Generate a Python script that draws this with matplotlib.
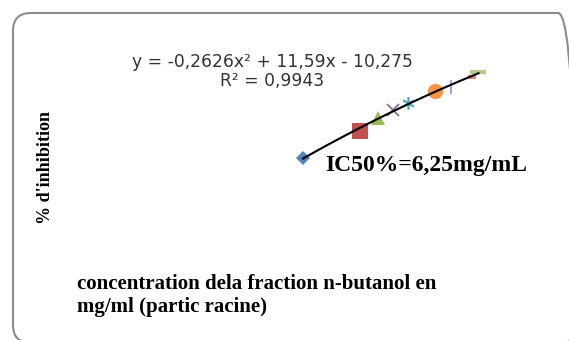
import numpy as np
import matplotlib
matplotlib.use("Agg")
import matplotlib.pyplot as plt
from matplotlib.patches import FancyBboxPatch
from matplotlib.transforms import IdentityTransform

# concentration (mg/ml) and % inhibition, one point per series
conc = [1.0, 2.9, 3.5, 4.0, 4.5, 5.4, 5.93, 6.63, 6.85]
inhib = [1.0, 19.0, 27.4, 32.7, 37.6, 45.0, 47.9, 54.5, 58.0]
markers = ['D', 's', '^', 'x', (6, 2, 0), 'o', '|', '_', '_']
colors = ['#4F81BD', '#C0504D', '#9BBB59', '#8064A2', '#4BACC6',
          '#F79646', '#7F9FCF', '#D9868A', '#B4CC84']
sizes = [7, 12, 10, 9, 9, 11, 10, 6, 12]

eq_text = "y = -0,2626x² + 11,59x - 10,275"
r2_text = "R² = 0,9943"
ic50_text = "IC50%=6,25mg/mL"
ylabel = "% d'inhibition"
xlabel_lines = ["concentration dela fraction n-butanol en", "mg/ml (partic racine)"]

W, H = 569, 340
fig = plt.figure(figsize=(W / 100, H / 100), dpi=100)
ax = fig.add_axes([0.2162, 0.2638, 0.7381, 0.6232])
ax.set_xlim(-5, 9)
ax.set_ylim(-60, 80)
ax.axis('off')

# chart border in pixels, rounded, running off the right and bottom edges
left, top, right, bottom = 13, 13, 576, 343
border = FancyBboxPatch((left, H - bottom), right - left, bottom - top,
                        boxstyle="round,pad=0,rounding_size=18",
                        transform=IdentityTransform(), fill=False,
                        edgecolor='#8C8C8C', linewidth=1.5)
fig.patches.append(border)

for x, y, m, c, s in zip(conc, inhib, markers, colors, sizes):
    mew = 1.2 if m in ('x', '|', (6, 2, 0)) else 3 if m == '_' else 0
    ax.plot(x, y, marker=m, color=c, markersize=s, markeredgewidth=mew,
            linestyle='none', zorder=2)

# polynomial trendline
coef = np.polyfit(conc, inhib, 2)
xs = np.linspace(min(conc), max(conc), 100)
ax.plot(xs, np.polyval(coef, xs), color='black', linewidth=1.5, zorder=3)

fig.text(272 / W, 1 - 62 / H, eq_text, ha='center', va='center',
         fontsize=12.3, family='DejaVu Sans', color='#333333')
fig.text(272 / W, 1 - 81 / H, r2_text, ha='center', va='center',
         fontsize=12.3, family='DejaVu Sans', color='#333333')

fig.text(325 / W, 1 - 171 / H, ic50_text, ha='left', va='baseline',
         fontsize=17, family='Liberation Serif', weight='bold')
fig.text(45 / W, 1 - 168 / H, ylabel, ha='center', va='center', rotation=90,
         fontsize=13, family='Liberation Serif', weight='bold')
for line, base in zip(xlabel_lines, [289, 312]):
    fig.text(77 / W, 1 - base / H, line, ha='left', va='baseline',
             fontsize=15, family='Liberation Serif', weight='bold')

fig.savefig('out.png', dpi=100)
